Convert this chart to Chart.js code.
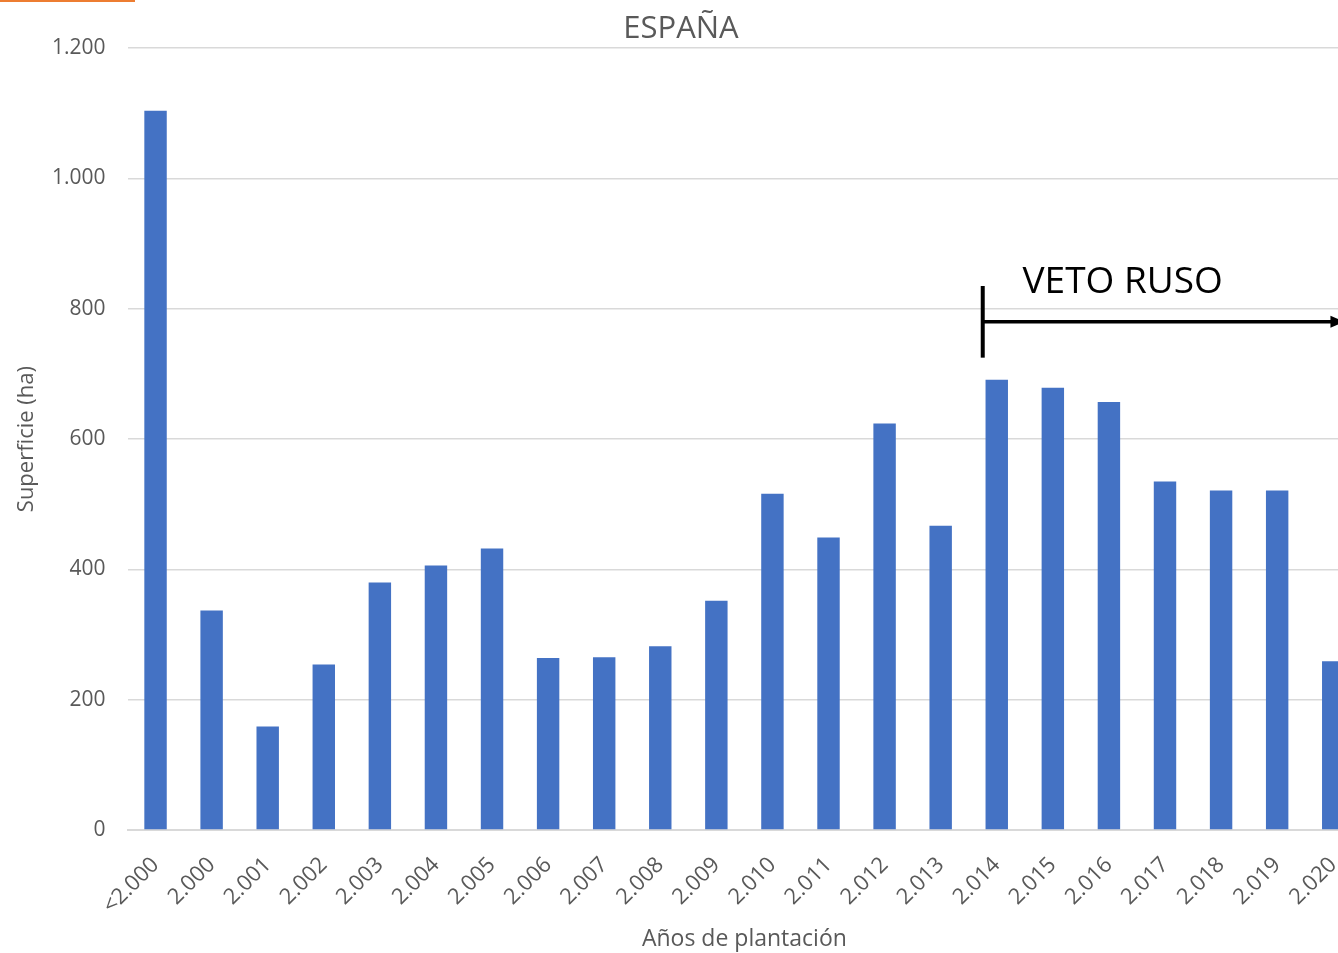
<!DOCTYPE html>
<html lang="es">
<head>
<meta charset="utf-8">
<title>España - superficie por año de plantación</title>
<script src="https://cdn.jsdelivr.net/npm/chart.js@4.4.1/dist/chart.umd.min.js"></script>
<style>
  html, body { margin: 0; padding: 0; background: #fff; overflow: hidden; }
  .wrap { position: relative; width: 1366px; height: 953px; }
  .top-strip { position: absolute; left: 0; top: 0; width: 135px; height: 2px; background: #ed7d31; }
</style>
</head>
<body>
<div class="wrap">
  <canvas id="chart" width="1366" height="953"></canvas>
  <div class="top-strip"></div>
</div>
<script>
const years = ['<2.000', '2.000', '2.001', '2.002', '2.003', '2.004', '2.005', '2.006', '2.007', '2.008', '2.009',
  '2.010', '2.011', '2.012', '2.013', '2.014', '2.015', '2.016', '2.017', '2.018', '2.019', '2.020'];
const hectares = [1104, 337, 159, 254, 380, 406, 432, 264, 265, 282, 352,
  516, 449, 624, 467, 691, 679, 657, 535, 521, 521, 259];
const yTicks = [0, 200, 400, 600, 800, 1000, 1200];

const vetoStart = 15;   // index of 2.014
const vetoLabel = 'VETO RUSO';

const grey = '#595959';
const font = "'Open Sans', 'Liberation Sans', sans-serif";

// thousands separator as a dot
const fmt = v => String(v).replace(/\B(?=(\d{3})+(?!\d))/g, '.');

const vetoArrow = {
  id: 'vetoArrow',
  afterDatasetsDraw(chart) {
    const { ctx, scales: { x, y } } = chart;
    const step = x.getPixelForValue(1) - x.getPixelForValue(0);
    const x0 = x.getPixelForValue(vetoStart) - 0.25 * step;
    const x1 = x.getPixelForValue(years.length - 1) + 0.2 * step;
    const yMid = y.getPixelForValue(780);

    ctx.save();
    ctx.strokeStyle = '#000';
    ctx.fillStyle = '#000';

    ctx.lineWidth = 4;
    ctx.beginPath();
    ctx.moveTo(x0, y.getPixelForValue(835));
    ctx.lineTo(x0, y.getPixelForValue(725));
    ctx.stroke();

    ctx.lineWidth = 3.5;
    ctx.beginPath();
    ctx.moveTo(x0, yMid);
    ctx.lineTo(x1 - 10, yMid);
    ctx.stroke();
    ctx.beginPath();
    ctx.moveTo(x1, yMid);
    ctx.lineTo(x1 - 14, yMid - 6);
    ctx.lineTo(x1 - 14, yMid + 6);
    ctx.closePath();
    ctx.fill();

    ctx.font = '37px ' + font;
    ctx.textBaseline = 'alphabetic';
    ctx.fillText(vetoLabel, x.getPixelForValue(vetoStart) + 0.46 * step, y.getPixelForValue(824));
    ctx.restore();
  }
};

new Chart(document.getElementById('chart'), {
  type: 'bar',
  data: {
    labels: years,
    datasets: [{
      data: hectares,
      backgroundColor: '#4472c4',
      borderWidth: 0,
      categoryPercentage: 1,
      barPercentage: 0.4
    }]
  },
  options: {
    responsive: false,
    animation: false,
    devicePixelRatio: 1,
    layout: { padding: { left: 0, right: 4, top: 0, bottom: 0 } },
    plugins: {
      legend: { display: false },
      tooltip: { enabled: false },
      title: {
        display: true,
        text: 'ESPAÑA',
        color: grey,
        font: { family: font, size: 31, weight: 'normal' },
        padding: { top: 11, bottom: 0 }
      }
    },
    scales: {
      x: {
        grid: { display: false },
        border: { display: true, color: '#d9d9d9', width: 2 },
        ticks: {
          color: grey,
          font: { family: font, size: 22 },
          minRotation: 45,
          maxRotation: 45,
          autoSkip: false,
          padding: 14
        },
        title: {
          display: true,
          text: 'Años de plantación',
          color: grey,
          font: { family: font, size: 23 },
          padding: { top: 0, bottom: 0 }
        },
        afterFit(scale) { scale.height = 123; }
      },
      y: {
        min: 0,
        max: 1200,
        afterBuildTicks(scale) { scale.ticks = yTicks.map(v => ({ value: v })); },
        grid: { color: '#d9d9d9', lineWidth: 1.5, drawTicks: false },
        border: { display: false },
        ticks: {
          color: grey,
          font: { family: font, size: 21 },
          padding: 22,
          callback: v => fmt(v)
        },
        title: {
          display: true,
          text: 'Superficie (ha)',
          color: grey,
          font: { family: font, size: 22 },
          padding: { top: 14, bottom: 0 }
        },
        afterFit(scale) { scale.width = 127.5; }
      }
    }
  },
  plugins: [vetoArrow]
});
</script>
</body>
</html>
